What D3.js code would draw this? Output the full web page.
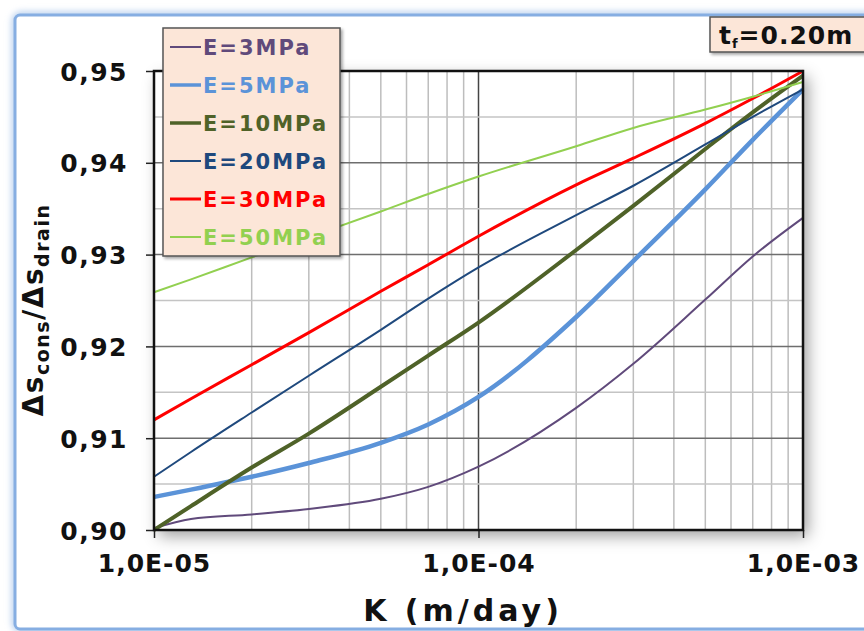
<!DOCTYPE html>
<html>
<head>
<meta charset="utf-8">
<script src="https://cdnjs.cloudflare.com/ajax/libs/d3/7.8.5/d3.min.js"></script>
<style>
  body { margin: 0; background: #fff; }
  svg { display: block; font-family: "DejaVu Sans", Verdana, sans-serif; font-weight: bold; }
</style>
</head>
<body>
<svg id="chart" width="864" height="631"></svg>
<script>
// K (m/day) sample points
const kValues = [1e-5, 1.3e-5, 2e-5, 3e-5, 5e-5, 7e-5, 1e-4, 2e-4, 3e-4, 5e-4, 7e-4, 1e-3];

// ds_cons / ds_drain for each modulus
const e3  = [0.9002, 0.9012, 0.9017, 0.9023, 0.9034, 0.9047, 0.9069, 0.9133, 0.9181, 0.9251, 0.9298, 0.9340];
const e5  = [0.9036, 0.9044, 0.9058, 0.9073, 0.9095, 0.9115, 0.9145, 0.9232, 0.9293, 0.9371, 0.9425, 0.9480];
const e10 = [0.9000, 0.9026, 0.9068, 0.9105, 0.9156, 0.9190, 0.9226, 0.9305, 0.9353, 0.9415, 0.9455, 0.9495];
const e20 = [0.9058, 0.9085, 0.9128, 0.9168, 0.9218, 0.9252, 0.9286, 0.9343, 0.9375, 0.9420, 0.9450, 0.9480];
const e30 = [0.9120, 0.9143, 0.9180, 0.9215, 0.9260, 0.9289, 0.9320, 0.9376, 0.9405, 0.9443, 0.9470, 0.9500];
const e50 = [0.9259, 0.9273, 0.9297, 0.9319, 0.9347, 0.9366, 0.9385, 0.9418, 0.9438, 0.9458, 0.9472, 0.9488];

const seriesNames = ['E=3MPa', 'E=5MPa', 'E=10MPa', 'E=20MPa', 'E=30MPa', 'E=50MPa'];
const seriesValues = [e3, e5, e10, e20, e30, e50];

const yTicks = [0.90, 0.91, 0.92, 0.93, 0.94, 0.95];
const xTicks = [1e-5, 1e-4, 1e-3];
const xTickLabels = ['1,0E-05', '1,0E-04', '1,0E-03'];

// styling per series
const colors = ['#604a7b', '#5b93d8', '#4f6228', '#1f497d', '#ff0000', '#92d050'];
const widths = [2, 4.5, 4, 2, 3, 2];

const svg = d3.select('#chart');
const margin = {left: 154, right: 61, top: 71, bottom: 101};
const W = 864, H = 631;
const pw = W - margin.left - margin.right;
const ph = H - margin.top - margin.bottom;

const defs = svg.append('defs');
let sh = defs.append('filter').attr('id', 'shadow')
    .attr('x', '-20%').attr('y', '-20%').attr('width', '140%').attr('height', '140%');
sh.append('feDropShadow').attr('dx', 5).attr('dy', 6).attr('stdDeviation', 8)
    .attr('flood-color', '#000').attr('flood-opacity', 0.38);
let sh2 = defs.append('filter').attr('id', 'boxshadow')
    .attr('x', '-20%').attr('y', '-20%').attr('width', '140%').attr('height', '140%');
sh2.append('feDropShadow').attr('dx', 2).attr('dy', 2).attr('stdDeviation', 1.5)
    .attr('flood-color', '#000').attr('flood-opacity', 0.35);
let glow = defs.append('filter').attr('id', 'glow')
    .attr('x', '-5%').attr('y', '-5%').attr('width', '110%').attr('height', '110%');
glow.append('feGaussianBlur').attr('stdDeviation', 3);

// outer frame
svg.append('rect').attr('x', 15).attr('y', 15).attr('width', 880).attr('height', 614)
    .attr('rx', 6).attr('fill', 'none').attr('stroke', '#b9d0ee').attr('stroke-width', 7)
    .attr('filter', 'url(#glow)');
svg.append('rect').attr('x', 15).attr('y', 15).attr('width', 880).attr('height', 614)
    .attr('rx', 5).attr('fill', '#fff').attr('stroke', '#86aee2').attr('stroke-width', 3);

const x = d3.scaleLog().domain([1e-5, 1e-3]).range([margin.left, margin.left + pw]);
const y = d3.scaleLinear().domain([0.90, 0.95]).range([margin.top + ph, margin.top]);

// plot background with shadow
svg.append('rect').attr('x', margin.left).attr('y', margin.top)
    .attr('width', pw).attr('height', ph).attr('fill', '#fff').attr('filter', 'url(#shadow)');

// grid
const minorX = [];
[1e-5, 1e-4].forEach(function(d) {
  for (let i = 2; i <= 9; i++) minorX.push(d * i);
});
svg.append('g').selectAll('line').data(minorX).join('line')
    .attr('x1', d => x(d)).attr('x2', d => x(d))
    .attr('y1', margin.top).attr('y2', margin.top + ph)
    .attr('stroke', '#bdbdbd').attr('stroke-width', 1.5);
svg.append('line').attr('x1', x(1e-4)).attr('x2', x(1e-4))
    .attr('y1', margin.top).attr('y2', margin.top + ph)
    .attr('stroke', '#444').attr('stroke-width', 1.5);

const minorY = d3.range(0, 11).map(i => 0.90 + i * 0.005);
svg.append('g').selectAll('line').data(minorY).join('line')
    .attr('x1', margin.left).attr('x2', margin.left + pw)
    .attr('y1', d => y(d)).attr('y2', d => y(d))
    .attr('stroke', (d, i) => i % 2 === 0 ? '#6e6e6e' : '#c4c4c4')
    .attr('stroke-width', 1.5);

// axes
const yAxis = svg.append('g').attr('transform', 'translate(' + margin.left + ',0)')
    .call(d3.axisLeft(y).tickValues(yTicks).tickSize(8).tickPadding(18)
      .tickFormat(d => d3.format('.2f')(d).replace('.', ',')));
yAxis.select('.domain').remove();
yAxis.selectAll('.tick line').attr('stroke', '#222').attr('stroke-width', 1.5);
yAxis.selectAll('text').attr('font-size', 25).attr('letter-spacing', 1.5)
    .attr('fill', '#111').attr('font-family', '"DejaVu Sans", sans-serif').attr('font-weight', 'bold')
    .attr('dy', '0.36em');

const xAxis = svg.append('g').attr('transform', 'translate(0,' + (margin.top + ph) + ')')
    .call(d3.axisBottom(x).tickValues(xTicks).tickSize(8).tickPadding(16)
      .tickFormat((d, i) => xTickLabels[i]));
xAxis.select('.domain').remove();
xAxis.selectAll('.tick line').attr('stroke', '#222').attr('stroke-width', 1.5);
xAxis.selectAll('text').attr('font-size', 25).attr('letter-spacing', 1)
    .attr('fill', '#111').attr('font-family', '"DejaVu Sans", sans-serif').attr('font-weight', 'bold');

// series
const line = d3.line()
    .x(d => x(d[0]))
    .y(d => y(d[1]))
    .curve(d3.curveMonotoneX);

svg.append('g').selectAll('path').data(seriesValues).join('path')
    .attr('d', vals => line(vals.map((v, i) => [kValues[i], v])))
    .attr('fill', 'none')
    .attr('stroke', (d, i) => colors[i])
    .attr('stroke-width', (d, i) => widths[i])
    .attr('stroke-linejoin', 'round');

// plot frame
svg.append('rect').attr('x', margin.left).attr('y', margin.top)
    .attr('width', pw).attr('height', ph)
    .attr('fill', 'none').attr('stroke', '#111').attr('stroke-width', 2.5);

// legend
const legend = svg.append('g').attr('transform', 'translate(163,28)');
legend.append('rect').attr('width', 177).attr('height', 228)
    .attr('fill', '#fce6d8').attr('stroke', '#555').attr('stroke-width', 1.5)
    .attr('filter', 'url(#boxshadow)');
const items = legend.selectAll('g.item').data(seriesNames).join('g')
    .attr('class', 'item')
    .attr('transform', (d, i) => 'translate(0,' + (19 + i * 38) + ')');
items.append('line').attr('x1', 7).attr('x2', 38).attr('y1', 0).attr('y2', 0)
    .attr('stroke', (d, i) => colors[i]).attr('stroke-width', (d, i) => Math.min(widths[i], 3.5));
items.append('text').attr('x', 40).attr('y', 0).attr('dy', '0.36em')
    .attr('font-size', 21).attr('letter-spacing', 2)
    .attr('fill', (d, i) => colors[i])
    .text(d => d);

// t_f box
const tf = svg.append('g').attr('transform', 'translate(710,17)');
tf.append('rect').attr('width', 170).attr('height', 35)
    .attr('fill', '#fce6d8').attr('stroke', '#555').attr('stroke-width', 1.5)
    .attr('filter', 'url(#boxshadow)');
const tft = tf.append('text').attr('x', 9).attr('y', 27).attr('font-size', 25)
    .attr('letter-spacing', 1).attr('fill', '#111');
tft.append('tspan').text('t');
tft.append('tspan').attr('font-size', 13).attr('dy', 4).text('f');
tft.append('tspan').attr('dy', -4).text('=0.20m');

// axis titles
svg.append('text').attr('x', 463).attr('y', 621).attr('text-anchor', 'middle')
    .attr('font-size', 30).attr('letter-spacing', 4).attr('fill', '#111')
    .text('K (m/day)');

const yt = svg.append('text').attr('transform', 'translate(43,310) rotate(-90)')
    .attr('text-anchor', 'middle').attr('font-size', 28).attr('letter-spacing', 1.5)
    .attr('fill', '#111');
yt.append('tspan').text('Δs');
yt.append('tspan').attr('font-size', 19).attr('dy', 6).text('cons');
yt.append('tspan').attr('dy', -6).text('/Δs');
yt.append('tspan').attr('font-size', 19).attr('dy', 6).text('drain');
</script>
</body>
</html>
